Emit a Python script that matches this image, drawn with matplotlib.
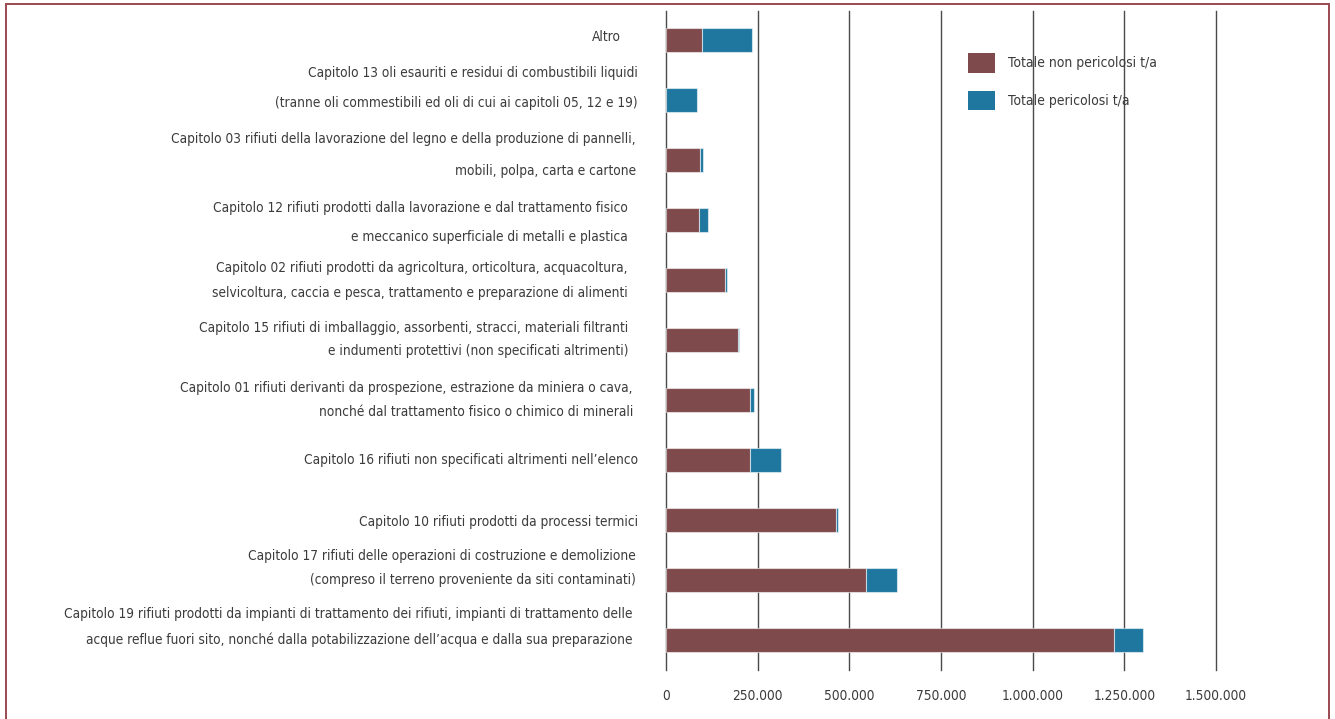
import matplotlib
matplotlib.use("Agg")
import matplotlib.pyplot as plt
from matplotlib.patches import Patch, Rectangle

plt.rcParams['font.family'] = ['DejaVu Sans']
plt.rcParams['font.stretch'] = 'condensed'

# ---- data (top to bottom as in the reference) ----
categories = [
    "Altro",
    "Capitolo 13 oli esauriti e residui di combustibili liquidi\n(tranne oli commestibili ed oli di cui ai capitoli 05, 12 e 19)",
    "Capitolo 03 rifiuti della lavorazione del legno e della produzione di pannelli,\nmobili, polpa, carta e cartone",
    "Capitolo 12 rifiuti prodotti dalla lavorazione e dal trattamento fisico\ne meccanico superficiale di metalli e plastica",
    "Capitolo 02 rifiuti prodotti da agricoltura, orticoltura, acquacoltura,\nselvicoltura, caccia e pesca, trattamento e preparazione di alimenti",
    "Capitolo 15 rifiuti di imballaggio, assorbenti, stracci, materiali filtranti\ne indumenti protettivi (non specificati altrimenti)",
    "Capitolo 01 rifiuti derivanti da prospezione, estrazione da miniera o cava,\nnonché dal trattamento fisico o chimico di minerali",
    "Capitolo 16 rifiuti non specificati altrimenti nell’elenco",
    "Capitolo 10 rifiuti prodotti da processi termici",
    "Capitolo 17 rifiuti delle operazioni di costruzione e demolizione\n(compreso il terreno proveniente da siti contaminati)",
    "Capitolo 19 rifiuti prodotti da impianti di trattamento dei rifiuti, impianti di trattamento delle\nacque reflue fuori sito, nonché dalla potabilizzazione dell’acqua e dalla sua preparazione",
]
non_pericolosi = [99000, 0, 94000, 89000, 162000, 195000, 230000, 229000, 464000, 546000, 1222000]
pericolosi = [136000, 84000, 6000, 26000, 5000, 4000, 10000, 84000, 4000, 85000, 79000]
series_names = ["Totale non pericolosi t/a", "Totale pericolosi t/a"]
x_ticks = [0, 250000, 500000, 750000, 1000000, 1250000, 1500000]
x_tick_labels = ["0", "250.000", "500.000", "750.000", "1.000.000", "1.250.000", "1.500.000"]

# ---- layout / style ----
label_offsets_px = [-3, -12, -5, 3, 1, 0, 0, 0, 2, -12, -13]
line_gap_px = [0, 30, 32, 29, 25, 23, 24, 0, 0, 24, 26]
label_right_gap_px = [45, 28, 30, 38, 38, 38, 33, 28, 28, 30, 34]
col_non = "#7f4a4c"
col_per = "#1f77a0"
text_col = "#3c3c3c"
fs = 9.8

fig = plt.figure(figsize=(13.35, 7.19), dpi=100)
W, H = 1335, 719
ax = fig.add_axes([666 / W, 1 - 670 / H, (1216 - 666) / W, (670 - 11) / H])

n = len(categories)
ypos = [n - 1 - i for i in range(n)]

edge = (1, 1, 1, 0.55)
ax.barh(ypos, non_pericolosi, height=0.4, color=col_non, edgecolor=edge, linewidth=0.8, zorder=3)
ax.barh(ypos, pericolosi, left=non_pericolosi, height=0.4, color=col_per, edgecolor=edge,
        linewidth=0.8, zorder=3)

ax.set_xlim(0, 1500000)
ax.set_ylim(-0.5, n - 0.52)
ax.set_xticks(x_ticks)
ax.set_xticklabels(x_tick_labels, fontsize=fs, color=text_col)
ax.tick_params(axis='x', length=0, pad=14)
ax.set_yticks([])
for s in ax.spines.values():
    s.set_visible(False)
for xv in x_ticks:
    ax.axvline(xv, color="#4a4a4a", linewidth=1.0, zorder=1, clip_on=False)

for i, (lab, y) in enumerate(zip(categories, ypos)):
    lines = lab.split("\n")
    gap = line_gap_px[i]
    k = len(lines)
    for j, line in enumerate(lines):
        dy = label_offsets_px[i] + (j - (k - 1) / 2) * gap
        ax.annotate(line, xy=(0, y), xycoords=('axes fraction', 'data'),
                    xytext=(-label_right_gap_px[i], -dy), textcoords='offset pixels',
                    ha='right', va='center', fontsize=fs, color=text_col,
                    annotation_clip=False)

handles = [Patch(facecolor=col_non, edgecolor='none'), Patch(facecolor=col_per, edgecolor='none')]
leg = fig.legend(handles, series_names, loc='upper left',
                 bbox_to_anchor=(968 / W, 1 - 53 / H), frameon=False, fontsize=10,
                 handlelength=1.95, handleheight=1.8, handletextpad=0.9,
                 labelspacing=1.3, borderpad=0, borderaxespad=0)
for t in leg.get_texts():
    t.set_color(text_col)

fig.patches.append(Rectangle((6 / W, -0.05), (1329 - 6) / W, 1.05 - 4 / H,
                             transform=fig.transFigure, fill=False,
                             edgecolor="#9b4a50", linewidth=1.4))

fig.savefig("out.png", dpi=100)
